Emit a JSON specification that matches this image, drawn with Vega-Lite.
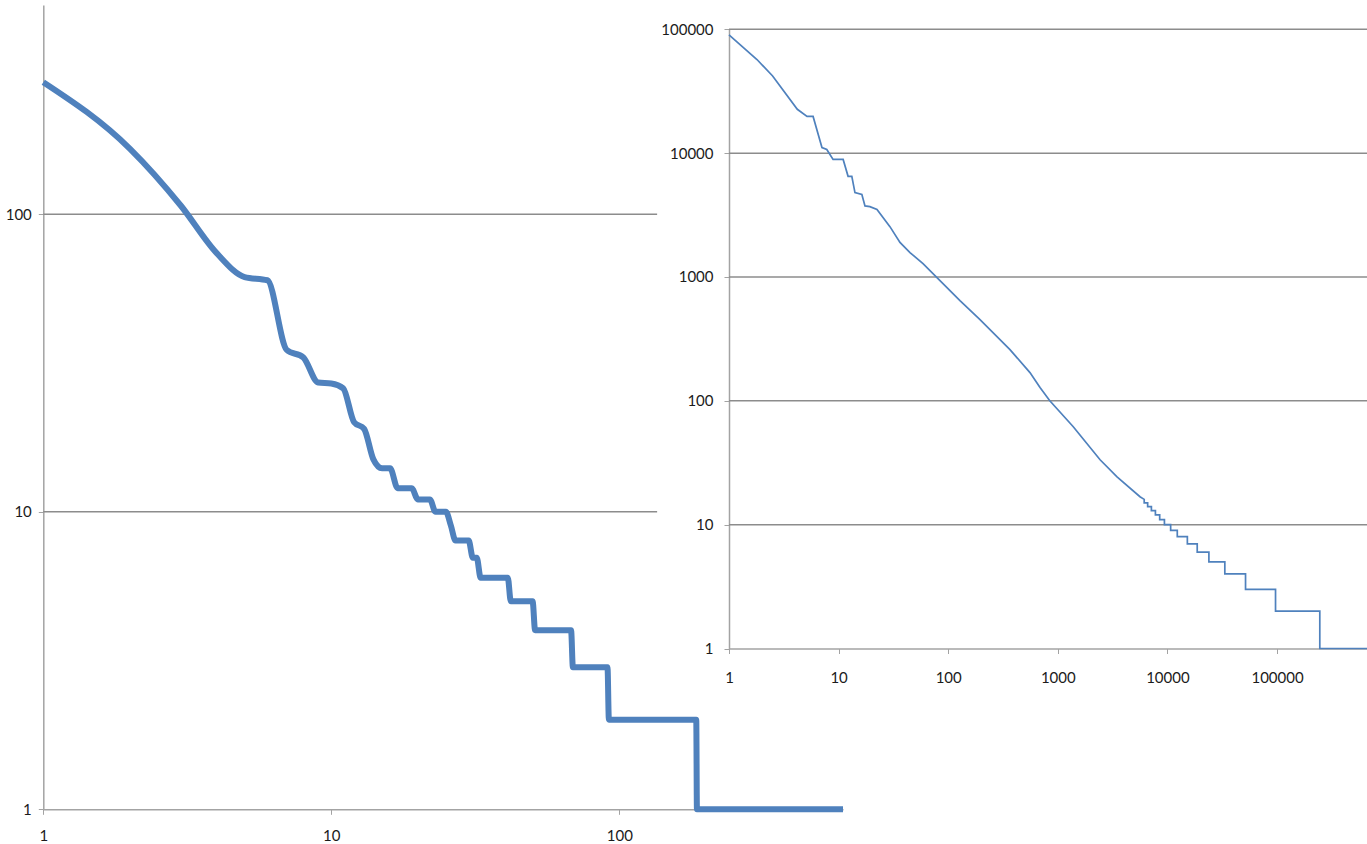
{
  "$schema": "https://vega.github.io/schema/vega-lite/v6.json",
  "width": 1367,
  "height": 844,
  "autosize": "none",
  "padding": 0,
  "background": "white",
  "config": {"view": {"stroke": null}},
  "layer": [
    {
      "layer": [
        {
          "data": {"values": [{"g": 100}, {"g": 10}]},
          "mark": {"type": "rule", "color": "#8c8c8c", "strokeWidth": 1.5},
          "encoding": {
            "x": {"datum": 1, "type": "quantitative",
              "scale": {"type": "log", "domain": [1, 598], "range": [43.3, 843], "nice": false},
              "axis": {"orient": "bottom", "offset": -34.7, "values": [1, 10, 100], "format": "d", "grid": false, "labelFlush": false, "labelOverlap": false, "title": null, "domainColor": "#a3a3a3", "domainWidth": 1.5, "tickColor": "#a3a3a3", "tickSize": 5, "tickWidth": 1, "labelFont": "Lato", "labelFontSize": 15, "labelColor": "#1b1b1b", "labelPadding": 14}},
            "x2": {"datum": 135.3},
            "y": {"field": "g", "type": "quantitative",
              "scale": {"type": "log", "domain": [1, 505], "range": [809.3, 5], "nice": false},
              "axis": {"orient": "left", "offset": -43.3, "values": [1, 10, 100], "format": "d", "grid": false, "labelOverlap": false, "title": null, "domainColor": "#a3a3a3", "domainWidth": 1.5, "tickColor": "#a3a3a3", "tickSize": 5, "tickWidth": 1, "labelFont": "Lato", "labelFontSize": 15, "labelColor": "#1b1b1b", "labelPadding": 7}}
          }
        },
        {
          "data": {"values": [
            {"rank": 1, "freq": 278}, {"rank": 2, "freq": 166}, {"rank": 3, "freq": 107}, {"rank": 4, "freq": 74},
            {"rank": 5, "freq": 61.5}, {"rank": 6, "freq": 60}, {"rank": 7, "freq": 35}, {"rank": 8, "freq": 33},
            {"rank": 9, "freq": 27.2}, {"rank": 10, "freq": 27}, {"rank": 11, "freq": 26}, {"rank": 12, "freq": 20},
            {"rank": 13, "freq": 19}, {"rank": 14, "freq": 15}, {"rank": 15, "freq": 14}, {"rank": 16, "freq": 14},
            {"rank": 17, "freq": 12}, {"rank": 18, "freq": 12}, {"rank": 19, "freq": 12}, {"rank": 20, "freq": 11},
            {"rank": 21, "freq": 11}, {"rank": 22, "freq": 11}, {"rank": 23, "freq": 10}, {"rank": 24, "freq": 10},
            {"rank": 25, "freq": 10}, {"rank": 26, "freq": 9}, {"rank": 27, "freq": 8}, {"rank": 28, "freq": 8},
            {"rank": 29, "freq": 8}, {"rank": 30, "freq": 8}, {"rank": 31, "freq": 7}, {"rank": 32, "freq": 7},
            {"rank": 33, "freq": 6}, {"rank": 41, "freq": 6}, {"rank": 42, "freq": 5}, {"rank": 50, "freq": 5},
            {"rank": 51, "freq": 4}, {"rank": 68, "freq": 4}, {"rank": 69, "freq": 3}, {"rank": 91, "freq": 3},
            {"rank": 92, "freq": 2}, {"rank": 185, "freq": 2}, {"rank": 186, "freq": 1}, {"rank": 598, "freq": 1}
          ]},
          "mark": {"type": "line", "color": "#4F81BD", "strokeWidth": 6, "interpolate": "monotone"},
          "encoding": {
            "x": {"field": "rank", "type": "quantitative",
              "scale": {"type": "log", "domain": [1, 598], "range": [43.3, 843], "nice": false},
              "axis": {"orient": "bottom", "offset": -34.7, "values": [1, 10, 100], "format": "d", "grid": false, "labelFlush": false, "labelOverlap": false, "title": null, "domainColor": "#a3a3a3", "domainWidth": 1.5, "tickColor": "#a3a3a3", "tickSize": 5, "tickWidth": 1, "labelFont": "Lato", "labelFontSize": 15, "labelColor": "#1b1b1b", "labelPadding": 14}},
            "y": {"field": "freq", "type": "quantitative",
              "scale": {"type": "log", "domain": [1, 505], "range": [809.3, 5], "nice": false},
              "axis": {"orient": "left", "offset": -43.3, "values": [1, 10, 100], "format": "d", "grid": false, "labelOverlap": false, "title": null, "domainColor": "#a3a3a3", "domainWidth": 1.5, "tickColor": "#a3a3a3", "tickSize": 5, "tickWidth": 1, "labelFont": "Lato", "labelFontSize": 15, "labelColor": "#1b1b1b", "labelPadding": 7}}
          }
        }
      ]
    },
    {
      "layer": [
        {
          "data": {"values": [{"g": 10}, {"g": 100}, {"g": 1000}, {"g": 10000}, {"g": 100000}]},
          "mark": {"type": "rule", "color": "#8c8c8c", "strokeWidth": 1.5},
          "encoding": {
            "x": {"datum": 1, "type": "quantitative",
              "scale": {"type": "log", "domain": [1, 662000], "range": [729, 1367], "nice": false},
              "axis": {"orient": "bottom", "offset": -195.5, "values": [1, 10, 100, 1000, 10000, 100000], "format": "d", "grid": false, "labelFlush": false, "labelOverlap": false, "title": null, "domainColor": "#a3a3a3", "domainWidth": 1.5, "tickColor": "#a3a3a3", "tickSize": 5, "tickWidth": 1, "labelFont": "Lato", "labelFontSize": 15, "labelColor": "#1b1b1b", "labelPadding": 17}},
            "x2": {"datum": 662000},
            "y": {"field": "g", "type": "quantitative",
              "scale": {"type": "log", "domain": [1, 100000], "range": [648.5, 29.3], "nice": false},
              "axis": {"orient": "left", "offset": -729, "values": [1, 10, 100, 1000, 10000, 100000], "format": "d", "grid": false, "labelOverlap": false, "title": null, "domainColor": "#a3a3a3", "domainWidth": 1.5, "tickColor": "#a3a3a3", "tickSize": 5, "tickWidth": 1, "labelFont": "Lato", "labelFontSize": 15, "labelColor": "#1b1b1b", "labelPadding": 11}}
          }
        },
        {
          "data": {"values": [
            {"i": 1, "x": 1, "y": 90000}, {"i": 2, "x": 1.8, "y": 57000}, {"i": 3, "x": 2.5, "y": 42000},
            {"i": 4, "x": 4.2, "y": 22600}, {"i": 5, "x": 5.15, "y": 19800}, {"i": 6, "x": 5.85, "y": 19800},
            {"i": 7, "x": 7.05, "y": 11100}, {"i": 8, "x": 7.8, "y": 10700}, {"i": 9, "x": 8.9, "y": 8900},
            {"i": 10, "x": 11, "y": 8900}, {"i": 11, "x": 12.2, "y": 6500}, {"i": 12, "x": 13.2, "y": 6500},
            {"i": 13, "x": 14.1, "y": 4800}, {"i": 14, "x": 16.3, "y": 4630}, {"i": 15, "x": 17.4, "y": 3750},
            {"i": 16, "x": 19.3, "y": 3700}, {"i": 17, "x": 22.4, "y": 3510}, {"i": 18, "x": 29.4, "y": 2550},
            {"i": 19, "x": 36.3, "y": 1900}, {"i": 20, "x": 44.8, "y": 1575}, {"i": 21, "x": 58.9, "y": 1280},
            {"i": 22, "x": 79, "y": 988}, {"i": 23, "x": 128, "y": 645}, {"i": 24, "x": 195, "y": 452},
            {"i": 25, "x": 366, "y": 259}, {"i": 26, "x": 557, "y": 169}, {"i": 27, "x": 688, "y": 128},
            {"i": 28, "x": 845, "y": 100}, {"i": 29, "x": 1377, "y": 62}, {"i": 30, "x": 2430, "y": 33.4},
            {"i": 31, "x": 3470, "y": 24.3}, {"i": 32, "x": 5620, "y": 16.8}, {"i": 33, "x": 6140, "y": 16},
            {"i": 34, "x": 6140, "y": 15}, {"i": 35, "x": 6600, "y": 15}, {"i": 36, "x": 6600, "y": 14},
            {"i": 37, "x": 7140, "y": 14}, {"i": 38, "x": 7140, "y": 13}, {"i": 39, "x": 7770, "y": 13},
            {"i": 40, "x": 7770, "y": 12}, {"i": 41, "x": 8500, "y": 12}, {"i": 42, "x": 8500, "y": 11},
            {"i": 43, "x": 9390, "y": 11}, {"i": 44, "x": 9390, "y": 10}, {"i": 45, "x": 10700, "y": 10},
            {"i": 46, "x": 10700, "y": 9}, {"i": 47, "x": 12300, "y": 9}, {"i": 48, "x": 12300, "y": 8},
            {"i": 49, "x": 15200, "y": 8}, {"i": 50, "x": 15200, "y": 7}, {"i": 51, "x": 18700, "y": 7},
            {"i": 52, "x": 18700, "y": 6}, {"i": 53, "x": 23900, "y": 6}, {"i": 54, "x": 23900, "y": 5},
            {"i": 55, "x": 33400, "y": 5}, {"i": 56, "x": 33400, "y": 4}, {"i": 57, "x": 51600, "y": 4},
            {"i": 58, "x": 51600, "y": 3}, {"i": 59, "x": 96900, "y": 3}, {"i": 60, "x": 96900, "y": 2},
            {"i": 61, "x": 245600, "y": 2}, {"i": 62, "x": 245600, "y": 1}, {"i": 63, "x": 662000, "y": 1}
          ]},
          "mark": {"type": "line", "color": "#4F81BD", "strokeWidth": 1.7},
          "encoding": {
            "x": {"field": "x", "type": "quantitative",
              "scale": {"type": "log", "domain": [1, 662000], "range": [729, 1367], "nice": false},
              "axis": {"orient": "bottom", "offset": -195.5, "values": [1, 10, 100, 1000, 10000, 100000], "format": "d", "grid": false, "labelFlush": false, "labelOverlap": false, "title": null, "domainColor": "#a3a3a3", "domainWidth": 1.5, "tickColor": "#a3a3a3", "tickSize": 5, "tickWidth": 1, "labelFont": "Lato", "labelFontSize": 15, "labelColor": "#1b1b1b", "labelPadding": 17}},
            "y": {"field": "y", "type": "quantitative",
              "scale": {"type": "log", "domain": [1, 100000], "range": [648.5, 29.3], "nice": false},
              "axis": {"orient": "left", "offset": -729, "values": [1, 10, 100, 1000, 10000, 100000], "format": "d", "grid": false, "labelOverlap": false, "title": null, "domainColor": "#a3a3a3", "domainWidth": 1.5, "tickColor": "#a3a3a3", "tickSize": 5, "tickWidth": 1, "labelFont": "Lato", "labelFontSize": 15, "labelColor": "#1b1b1b", "labelPadding": 11}},
            "order": {"field": "i", "type": "quantitative"}
          }
        }
      ]
    }
  ],
  "resolve": {
    "scale": {"x": "independent", "y": "independent"},
    "axis": {"x": "independent", "y": "independent"}
  }
}
